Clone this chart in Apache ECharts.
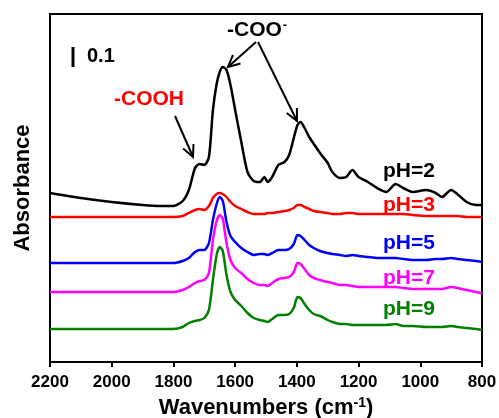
<!DOCTYPE html>
<html>
<head>
<meta charset="utf-8">
<script src="https://cdn.jsdelivr.net/npm/echarts@6/dist/echarts.min.js"></script>
<style>
  html, body { margin: 0; padding: 0; background: #fff; }
  #main { width: 499px; height: 418px; }
</style>
</head>
<body>
<div id="main"></div>
<script>
// wavenumber grid (cm-1), shared by all spectra
var wavenumbers = [2200,2100,2000,1900,1840,1800,1770,1750,1730,1715,
  1700,1685,1672,1660,1650,1640,1628,1615,1600,1580,
  1560,1540,1520,1505,1495,1480,1460,1440,1425,1410,
  1398,1388,1375,1360,1345,1325,1300,1285,1260,1240,
  1220,1200,1170,1140,1110,1080,1055,1025,980,950,
  930,900,880,850,820,800];

// absorbance, offset stacked
var absPH2 = [0.845,0.82,0.80,0.785,0.78,0.78,0.805,0.86,0.97,0.99,
  0.985,1.025,1.26,1.39,1.45,1.475,1.46,1.385,1.26,1.10,
  0.95,0.905,0.90,0.925,0.90,0.925,0.985,1.00,1.035,1.12,
  1.185,1.20,1.17,1.125,1.09,1.045,0.995,0.95,0.92,0.925,
  0.96,0.925,0.90,0.87,0.85,0.89,0.87,0.85,0.86,0.845,
  0.825,0.86,0.84,0.80,0.785,0.785];
var absPH3 = [0.725,0.725,0.725,0.725,0.725,0.725,0.73,0.745,0.76,0.765,
  0.76,0.78,0.82,0.84,0.845,0.84,0.825,0.80,0.78,0.765,
  0.75,0.74,0.74,0.74,0.745,0.745,0.75,0.755,0.76,0.77,
  0.785,0.785,0.775,0.765,0.755,0.75,0.745,0.74,0.74,0.745,
  0.745,0.74,0.74,0.74,0.74,0.74,0.74,0.735,0.73,0.73,
  0.73,0.73,0.73,0.725,0.725,0.725];
var absPH5 = [0.495,0.495,0.495,0.495,0.495,0.495,0.505,0.52,0.55,0.56,
  0.56,0.595,0.71,0.79,0.825,0.805,0.70,0.63,0.60,0.57,
  0.55,0.535,0.54,0.54,0.535,0.545,0.56,0.56,0.565,0.59,
  0.635,0.63,0.61,0.585,0.57,0.555,0.545,0.54,0.535,0.53,
  0.535,0.53,0.525,0.52,0.52,0.52,0.515,0.51,0.51,0.515,
  0.515,0.52,0.515,0.51,0.505,0.50];
var absPH7 = [0.35,0.35,0.35,0.35,0.35,0.35,0.36,0.375,0.395,0.405,
  0.41,0.445,0.61,0.705,0.735,0.715,0.595,0.51,0.47,0.445,
  0.415,0.395,0.385,0.385,0.38,0.395,0.415,0.42,0.425,0.45,
  0.495,0.49,0.465,0.435,0.42,0.41,0.40,0.395,0.385,0.385,
  0.38,0.375,0.375,0.375,0.375,0.375,0.37,0.365,0.365,0.365,
  0.365,0.375,0.37,0.36,0.35,0.345];
var absPH9 = [0.165,0.165,0.165,0.165,0.165,0.165,0.175,0.195,0.205,0.21,
  0.22,0.26,0.41,0.535,0.575,0.555,0.435,0.35,0.31,0.28,
  0.245,0.22,0.21,0.205,0.20,0.215,0.235,0.235,0.24,0.27,
  0.325,0.32,0.29,0.26,0.24,0.23,0.21,0.20,0.19,0.19,
  0.185,0.185,0.185,0.185,0.185,0.19,0.18,0.18,0.175,0.175,
  0.175,0.18,0.175,0.17,0.165,0.16];

var seriesNames = ['pH=2','pH=3','pH=5','pH=7','pH=9'];
var seriesColors = ['#000000','#ff0000','#0000ff','#ff00ff','#008000'];
var seriesData = [absPH2, absPH3, absPH5, absPH7, absPH9];
var labelY = [173, 207, 245, 280, 311];

var FONT = 'Arial, "Liberation Sans", sans-serif';

function pairs(ys) {
  var out = [];
  for (var i = 0; i < wavenumbers.length; i++) out.push([wavenumbers[i], ys[i]]);
  return out;
}

function txt(x, y, s, color, size) {
  return {
    type: 'text', left: x, top: y,
    style: { text: s, fill: color, fontSize: size, fontWeight: 'bold', fontFamily: FONT }
  };
}

// open V arrow from (x1,y1) to tip (x2,y2)
function arrow(x1, y1, x2, y2) {
  var a = Math.atan2(y2 - y1, x2 - x1), L = 13, w = 0.45;
  var p1 = [x2 - L * Math.cos(a - w), y2 - L * Math.sin(a - w)];
  var p2 = [x2 - L * Math.cos(a + w), y2 - L * Math.sin(a + w)];
  return [
    { type: 'line', shape: { x1: x1, y1: y1, x2: x2, y2: y2 }, style: { stroke: '#000', lineWidth: 2 } },
    { type: 'polyline', shape: { points: [p1, [x2, y2], p2] }, style: { stroke: '#000', lineWidth: 2, fill: null } }
  ];
}

var chart = echarts.init(document.getElementById('main'));

var series = [];
var graphics = [];
for (var k = 0; k < seriesData.length; k++) {
  series.push({
    name: seriesNames[k],
    type: 'line',
    data: pairs(seriesData[k]),
    showSymbol: false,
    smooth: 0.25,
    lineStyle: { color: seriesColors[k], width: 2.5 },
    itemStyle: { color: seriesColors[k] },
    z: 10 - k
  });
  graphics.push(txt(383, labelY[k] - 12, seriesNames[k], seriesColors[k], 21));
}

graphics = graphics.concat(
  [{ type: 'line', shape: { x1: 73, y1: 47, x2: 73, y2: 67 }, style: { stroke: '#000', lineWidth: 3 } },
   txt(87, 46, '0.1', '#000', 20),
   txt(114, 89, '-COOH', '#ff0000', 21),
   { type: 'text', left: 227, top: 19, style: {
      text: '{a|-COO}{s|-}',
      rich: {
        a: { fontSize: 21, fontWeight: 'bold', fontFamily: FONT, fill: '#000' },
        s: { fontSize: 13, fontWeight: 'bold', fontFamily: FONT, fill: '#000', verticalAlign: 'top', padding: [0, 0, 10, 1] }
      } } }],
  arrow(175, 116, 193, 157),
  arrow(256, 42, 228, 67),
  arrow(258, 42, 297, 121)
);

var option = {
  animation: false,
  grid: {
    left: 50, right: 17, top: 14, bottom: 56,
    outerBoundsMode: 'none',
    show: true, borderColor: '#000', borderWidth: 2
  },
  xAxis: {
    type: 'value',
    min: 800, max: 2200, interval: 200,
    inverse: true,
    name: '{a|Wavenumbers (cm}{s|-1}{a|)}',
    nameLocation: 'middle',
    nameGap: 34,
    nameTextStyle: {
      rich: {
        a: { fontSize: 22, fontWeight: 'bold', fontFamily: FONT, color: '#000' },
        s: { fontSize: 14, fontWeight: 'bold', fontFamily: FONT, color: '#000', verticalAlign: 'top', padding: [0, 0, 10, 0] }
      }
    },
    axisLine: { lineStyle: { color: '#000', width: 2 } },
    axisTick: { inside: false, length: 5, lineStyle: { color: '#000', width: 2 } },
    axisLabel: {
      color: '#000', fontSize: 17, fontWeight: 'bold', fontFamily: FONT, margin: 12,
      formatter: function (v) { return String(v); }
    },
    splitLine: { show: false }
  },
  yAxis: {
    type: 'value',
    min: 0, max: 1.74,
    name: 'Absorbance',
    nameLocation: 'middle',
    nameGap: 16,
    nameTextStyle: { color: '#000', fontSize: 22, fontWeight: 'bold', fontFamily: FONT },
    axisLine: { show: true, lineStyle: { color: '#000', width: 2 } },
    axisTick: { show: false },
    axisLabel: { show: false },
    splitLine: { show: false }
  },
  series: series,
  graphic: graphics
};

chart.setOption(option);
</script>
</body>
</html>
